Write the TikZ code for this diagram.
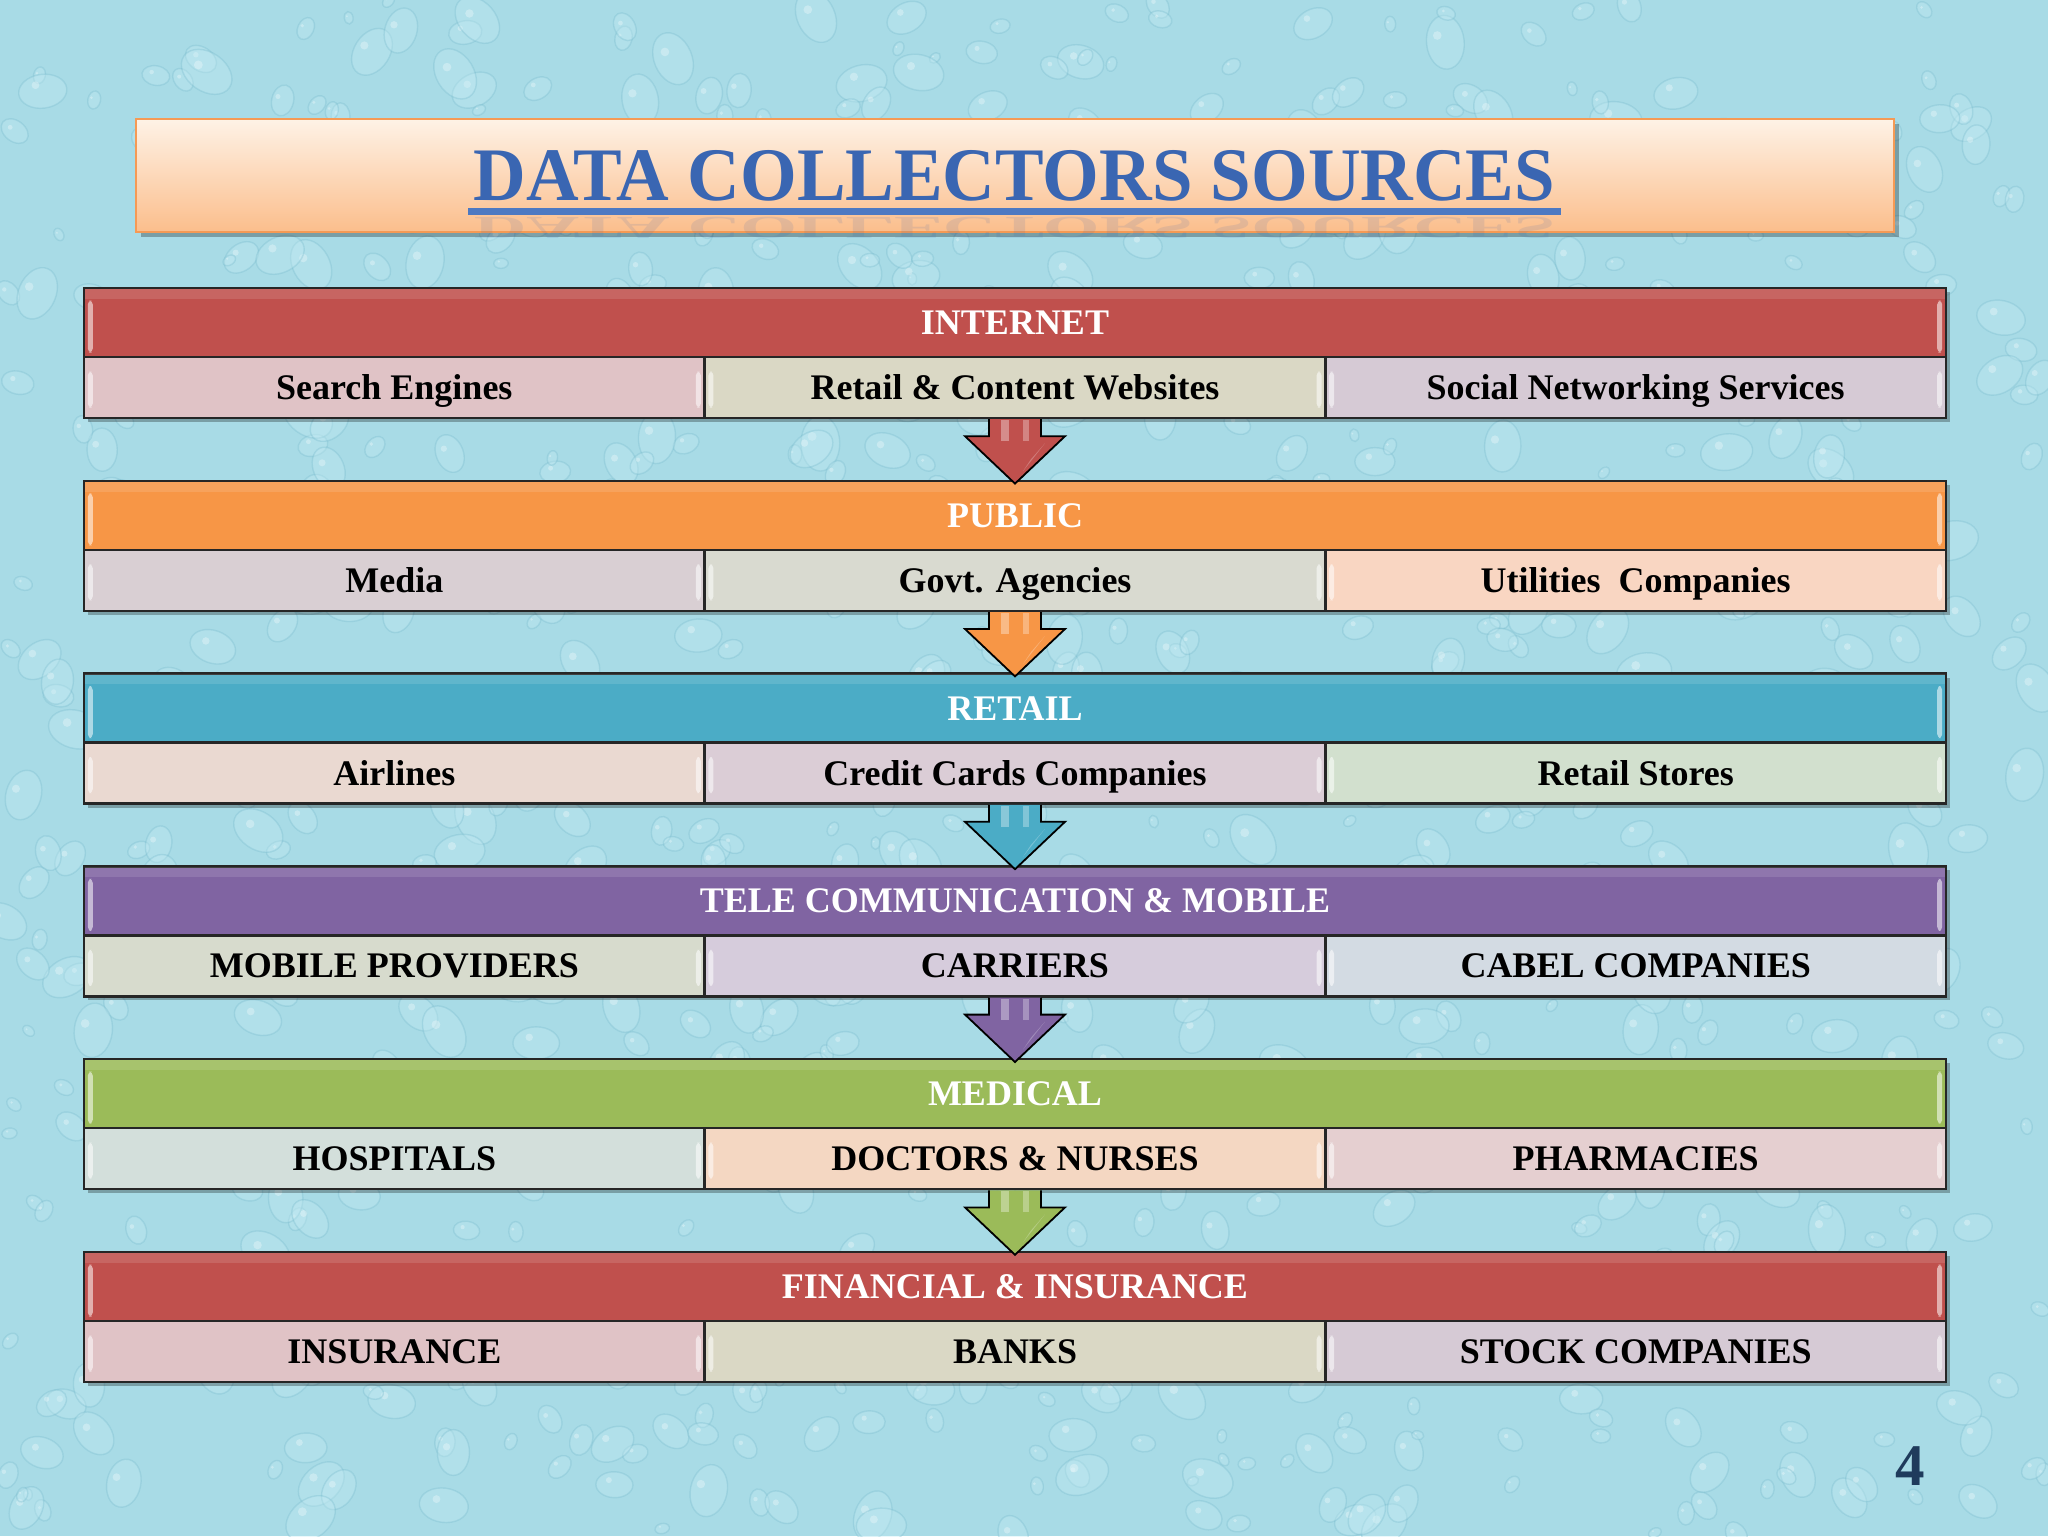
\documentclass[tikz,border=0pt]{standalone}
\usepackage{fontspec}
\setmainfont{Liberation Serif}
\usetikzlibrary{calc}
\definecolor{bgc}{HTML}{A8DBE6}
\definecolor{dropfill}{HTML}{C4EBF3}
\definecolor{dropedge}{HTML}{72B7CA}
\definecolor{titleblue}{HTML}{3A66B2}
\definecolor{titleline}{HTML}{4D79C2}
\definecolor{pagenumc}{HTML}{1F3B5C}
\definecolor{boxtop}{HTML}{FEF2E6}
\definecolor{boxbot}{HTML}{FBBE8C}
\definecolor{boxedge}{HTML}{F59A55}
% header colours
\definecolor{hdr1}{HTML}{C0504D}
\definecolor{hdr2}{HTML}{F79646}
\definecolor{hdr3}{HTML}{4BACC6}
\definecolor{hdr4}{HTML}{8064A2}
\definecolor{hdr5}{HTML}{9BBB59}
\definecolor{hdr6}{HTML}{C0504D}
% cell colours
\definecolor{cellA1}{HTML}{E0C3C6}\definecolor{cellB1}{HTML}{DAD8C5}\definecolor{cellC1}{HTML}{D6CAD5}
\definecolor{cellA2}{HTML}{D9CFD3}\definecolor{cellB2}{HTML}{D9DAD0}\definecolor{cellC2}{HTML}{F9D6C2}
\definecolor{cellA3}{HTML}{EAD9D1}\definecolor{cellB3}{HTML}{DBCDD6}\definecolor{cellC3}{HTML}{D2E0CE}
\definecolor{cellA4}{HTML}{D7DBCD}\definecolor{cellB4}{HTML}{D6CCDC}\definecolor{cellC4}{HTML}{D3DBE3}
\definecolor{cellA5}{HTML}{D3DFDB}\definecolor{cellB5}{HTML}{F4D7C2}\definecolor{cellC5}{HTML}{E5CFD0}
\definecolor{cellA6}{HTML}{E0C3C6}\definecolor{cellB6}{HTML}{DAD8C5}\definecolor{cellC6}{HTML}{D6CAD5}
\begin{document}
\begin{tikzpicture}[x=0.5pt,y=-0.5pt,
  hdrbox/.style={draw=black!85, line width=1.2pt, minimum width=931pt, minimum height=34.5pt,
    inner sep=0pt},
  cellbox/.style={draw=black!85, line width=1.2pt, minimum width=310.33pt, minimum height=30.5pt,
    inner sep=0pt, text=black, text height=12pt, text depth=0pt,
    font=\fontsize{18pt}{20pt}\selectfont\bfseries},
  hdrtext/.style={inner sep=0pt, text=white, text height=12pt, text depth=0pt,
    font=\fontsize{18pt}{20pt}\selectfont\bfseries},
  gloss/.style={fill=white, opacity=0.55, rounded corners=2pt},
  dropstyle/.style={fill=dropfill, fill opacity=0.35, draw=dropedge, draw opacity=0.3, line width=0.7pt},
  blockarrow/.style={draw=black, line width=0.9pt, line join=miter},
  shadowbox/.style={fill=black, opacity=0.28}
]
\useasboundingbox (0,0) rectangle (2048,1536);
% background
\fill[bgc] (0,0) rectangle (2048,1536);
\pgfmathsetseed{7}
\foreach \ii in {1,...,900}{
  \pgfmathsetmacro\xx{rnd*2048}
  \pgfmathsetmacro\yy{rnd*1536}
  \pgfmathsetmacro\rr{6+rnd*22}
  \pgfmathsetmacro\rot{rnd*180}
  \draw[dropstyle, rotate around={\rot:(\xx,\yy)}] (\xx,\yy) ellipse [x radius=\rr, y radius=0.7*\rr];
  \fill[white, opacity=0.3] (\xx-0.3*\rr,\yy-0.25*\rr) circle [radius=0.16*\rr];
}
% title box
\fill[shadowbox] (141,124) rectangle (1899,237);
\node[draw=boxedge, line width=0.8pt, top color=boxtop, bottom color=boxbot,
      minimum width=879pt, minimum height=56.5pt, inner sep=0pt] (tbox) at (1015,175.5) {};
\fill[titleline] (468,208) rectangle (1561,215);
\node[anchor=north, inner sep=0pt, text=titleblue, opacity=0.13,
      font=\fontsize{37.8pt}{40pt}\selectfont\bfseries] (ttlr) at (1014.5,217)
      {\scalebox{0.964}[-0.42]{DATA COLLECTORS SOURCES}};
\node[anchor=base, inner sep=0pt, text=titleblue,
      font=\fontsize{37.8pt}{40pt}\selectfont\bfseries] (ttl) at (1014.5,200)
      {\scalebox{0.964}[1]{DATA COLLECTORS SOURCES}};
% bands
\foreach \bi/\hx/\txa/\txb/\txc in {
  1/INTERNET/Search Engines/Retail \& Content Websites/Social Networking Services,
  2/PUBLIC/Media/Govt. Agencies/Utilities~~Companies,
  3/RETAIL/Airlines/Credit Cards Companies/Retail Stores,
  4/TELE COMMUNICATION \& MOBILE/MOBILE PROVIDERS/CARRIERS/CABEL COMPANIES,
  5/MEDICAL/HOSPITALS/DOCTORS \& NURSES/PHARMACIES,
  6/FINANCIAL \& INSURANCE/INSURANCE/BANKS/STOCK COMPANIES}{
  \pgfmathsetmacro\yt{288+192.8*(\bi-1)}
  \fill[shadowbox] (88,\yt+4) rectangle (1950,\yt+134);
  \node[hdrbox, fill=hdr\bi] (h\bi) at (1015,\yt+34.5) {};
  \fill[white, opacity=0.12] ($(h\bi.north west)+(2,2)$) rectangle ($(h\bi.north east)+(-2,12)$);
  \fill[gloss] ($(h\bi.west)+(5,-22)$) rectangle ($(h\bi.west)+(10,30)$);
  \fill[gloss] ($(h\bi.east)+(-10,-22)$) rectangle ($(h\bi.east)+(-5,30)$);
  \node[hdrtext] (ht\bi) at (h\bi.center) {\hx};
  \node[cellbox, fill=cellA\bi] (cA\bi) at (394.33,\yt+99.5) {\txa};
  \node[cellbox, fill=cellB\bi] (cB\bi) at (1015,\yt+99.5) {\txb};
  \node[cellbox, fill=cellC\bi] (cC\bi) at (1635.67,\yt+99.5) {\txc};
  \foreach \cl in {A,B,C}{
    \fill[gloss] ($(c\cl\bi.west)+(5,-16)$) rectangle ($(c\cl\bi.west)+(10,20)$);
    \fill[gloss] ($(c\cl\bi.east)+(-10,-16)$) rectangle ($(c\cl\bi.east)+(-5,20)$);
  }
}
% block arrows between bands
\foreach \ai/\ni in {1/2,2/3,3/4,4/5,5/6}{
  \draw[blockarrow, fill=hdr\ai]
    ($(cB\ai.south)+(-26,0)$) -- ($(cB\ai.south)+(-26,17)$) -- ($(cB\ai.south)+(-50,17)$)
    -- ($(h\ni.north)+(0,4)$)
    -- ($(cB\ai.south)+(50,17)$) -- ($(cB\ai.south)+(26,17)$) -- ($(cB\ai.south)+(26,0)$);
  \fill[white, opacity=0.35] ($(cB\ai.south)+(-14,1)$) rectangle ($(cB\ai.south)+(-6,22)$);
  \fill[white, opacity=0.3] ($(cB\ai.south)+(8,1)$) rectangle ($(cB\ai.south)+(14,22)$);
  \fill[white, opacity=0.25] ($(cB\ai.south)+(30,24)$) -- ($(cB\ai.south)+(8,52)$) -- ($(cB\ai.south)+(16,40)$) -- cycle;
}
% page number
\node[inner sep=0pt, text=pagenumc, font=\fontsize{29.5pt}{31pt}\selectfont\bfseries] (pg) at (1910,1466) {4};
\end{tikzpicture}
\end{document}
